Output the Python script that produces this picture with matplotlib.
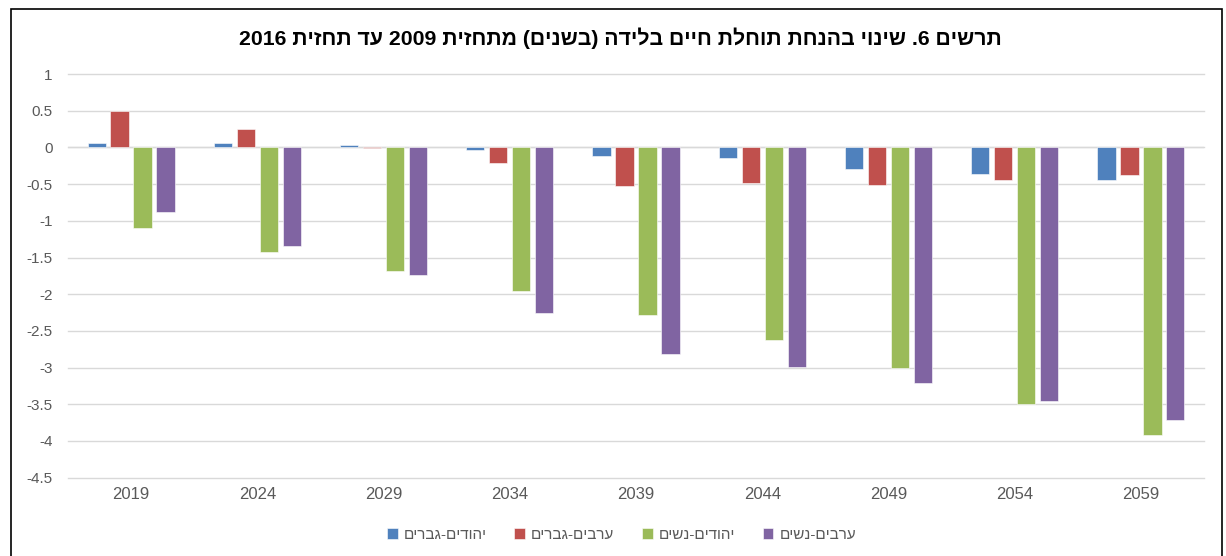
import matplotlib
matplotlib.use("Agg")
import matplotlib.pyplot as plt
import numpy as np
from matplotlib.patches import Rectangle

plt.rcParams['font.family'] = ['Liberation Sans', 'DejaVu Sans']

years = ['2019', '2024', '2029', '2034', '2039', '2044', '2049', '2054', '2059']
jews_men = [0.06, 0.06, 0.03, -0.03, -0.12, -0.14, -0.29, -0.36, -0.44]
arabs_men = [0.49, 0.25, -0.01, -0.21, -0.53, -0.49, -0.51, -0.44, -0.38]
jews_women = [-1.10, -1.42, -1.68, -1.96, -2.28, -2.63, -3.00, -3.50, -3.92]
arabs_women = [-0.88, -1.35, -1.74, -2.26, -2.81, -2.99, -3.21, -3.46, -3.71]

labels = ['יהודים-גברים', 'ערבים-גברים', 'יהודים-נשים', 'ערבים-נשים']
colors = ['#4F81BD', '#C0504D', '#9BBB59', '#8064A2']
title = 'תרשים 6. שינוי בהנחת תוחלת חיים בלידה (בשנים) מתחזית 2009 עד תחזית 2016'


def is_heb(ch):
    return '\u0590' <= ch <= '\u05FF'


def visual(s):
    # crude right-to-left reordering, matplotlib has no bidi support
    out = []
    for tok in reversed(s.split(' ')):
        if any(is_heb(c) for c in tok):
            tok = tok[::-1].translate(str.maketrans('()', ')('))
        elif tok.endswith('.'):
            tok = '.' + tok[:-1]
        out.append(tok)
    return ' '.join(out)


fig = plt.figure(figsize=(12.26, 5.56), dpi=100)
ax = fig.add_axes([68 / 1226, 1 - 477.7 / 556, (1204 - 68) / 1226, (477.7 - 74) / 556])

x = np.arange(len(years))
pitch = 0.182
width = 0.145
series = [jews_men, arabs_men, jews_women, arabs_women]
for i, (vals, lab, col) in enumerate(zip(series, labels, colors)):
    ax.bar(x + (i - 1.5) * pitch, vals, width, color=col, label=visual(lab),
           edgecolor='white', linewidth=0.4, zorder=3)

ax.set_xlim(-0.5, len(years) - 0.5)
ax.set_ylim(-4.5, 1)
ax.set_yticks(np.arange(-4.5, 1.01, 0.5))
ax.set_yticklabels(['{:g}'.format(v) for v in np.arange(-4.5, 1.01, 0.5)])
ax.set_xticks(x)
ax.set_xticklabels(years)
ax.tick_params(axis='y', length=0, pad=11, labelsize=11, labelcolor='#595959')
ax.tick_params(axis='x', length=0, pad=7, labelsize=12, labelcolor='#595959')
ax.grid(axis='y', color='#d9d9d9', linewidth=1.0, zorder=0)
for gl in ax.get_ygridlines():
    gl.set_clip_on(False)
ax.axhline(0, color='#d9d9d9', linewidth=1.0, zorder=1)
for sp in ax.spines.values():
    sp.set_visible(False)

fig.text(0.506, 1 - 38 / 556, visual(title), ha='center', va='center',
         fontsize=15.3, fontweight='bold', color='black')

fig.legend(loc='center', bbox_to_anchor=(0.507, 1 - 535 / 556), ncol=4,
           frameon=False, fontsize=11, handlelength=0.7, handleheight=0.7,
           handletextpad=0.4, columnspacing=1.8, labelcolor='#595959')

fig.patches.append(Rectangle((11 / 1226, -0.02), (1222 - 11) / 1226, (556 - 9) / 556 + 0.02,
                             transform=fig.transFigure, fill=False,
                             edgecolor='black', linewidth=1.2))

fig.savefig('out.png', dpi=100)
